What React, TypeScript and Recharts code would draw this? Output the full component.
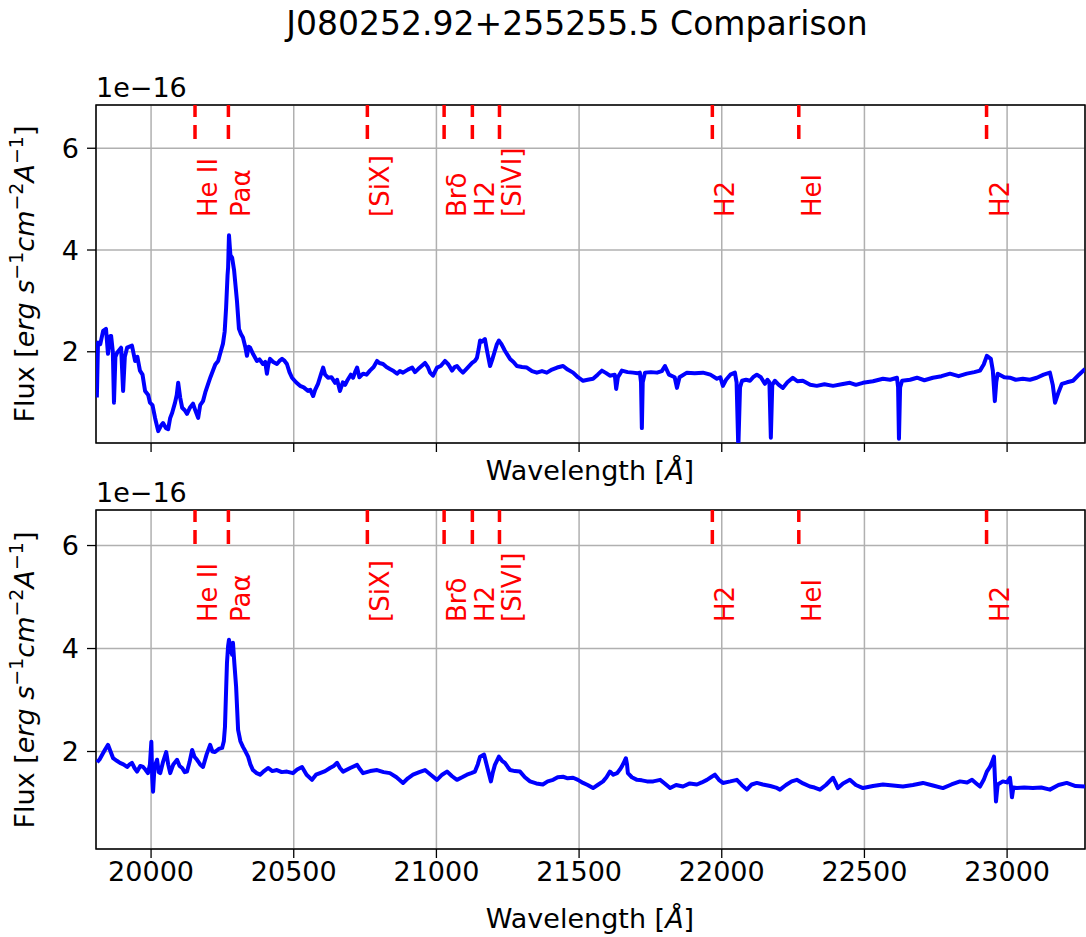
import { LineChart, Line, XAxis, YAxis, CartesianGrid, ReferenceLine, ReferenceArea } from 'recharts'

// upper spectrum (wavelength in Å, flux in 1e-16)
const wave1 = [
  19810, 19814, 19822, 19832, 19842, 19849, 19855, 19860, 19866, 19870, 19875, 19881, 19895, 19902, 19908, 19916,
  19933, 19944, 19952, 19961, 19970, 19979, 19990, 19996, 20005, 20014, 20025, 20035, 20042, 20052, 20060, 20067,
  20074, 20084, 20090, 20095, 20102, 20109, 20118, 20126, 20136, 20147, 20155, 20165, 20172, 20182, 20190, 20200,
  20208, 20217, 20225, 20235, 20244, 20252, 20258, 20263, 20268, 20270, 20273, 20278, 20284, 20291, 20296, 20301,
  20308, 20315, 20322, 20330, 20336, 20342, 20347, 20358, 20371, 20380, 20392, 20400, 20406, 20411, 20417, 20428,
  20441, 20450, 20459, 20468, 20476, 20485, 20494, 20508, 20522, 20535, 20550, 20558, 20568, 20575, 20585, 20595,
  20603, 20610, 20620, 20632, 20645, 20652, 20662, 20672, 20680, 20687, 20700, 20708, 20715, 20722, 20730, 20743,
  20755, 20767, 20780, 20792, 20800, 20813, 20825, 20837, 20850, 20862, 20872, 20883, 20900, 20915, 20925, 20936,
  20948, 20960, 20970, 20978, 20988, 21002, 21015, 21030, 21042, 21055, 21064, 21072, 21082, 21093, 21108, 21125,
  21135, 21142, 21148, 21153, 21160, 21170, 21178, 21188, 21196, 21205, 21212, 21219, 21228, 21240, 21248, 21258,
  21270, 21282, 21300, 21317, 21335, 21352, 21370, 21387, 21405, 21423, 21444, 21460, 21479, 21496, 21514, 21530,
  21549, 21565, 21580, 21595, 21608, 21625, 21630, 21636, 21650, 21670, 21689, 21705, 21713, 21717, 21720, 21723,
  21731, 21752, 21773, 21790, 21801, 21815, 21835, 21843, 21852, 21878, 21905, 21934, 21960, 21983, 21995, 22004,
  22015, 22030, 22046, 22052, 22058, 22064, 22071, 22085, 22099, 22110, 22123, 22137, 22151, 22160, 22167, 22172,
  22177, 22186, 22200, 22214, 22230, 22249, 22265, 22284, 22310, 22333, 22360, 22390, 22420, 22449, 22470, 22495,
  22530, 22565, 22590, 22614, 22618, 22621, 22625, 22632, 22660, 22684, 22710, 22740, 22770, 22800, 22830, 22859,
  22885, 22905, 22918, 22929, 22943, 22950, 22957, 22962, 22967, 22990, 23010, 23030, 23055, 23080, 23104, 23128,
  23150, 23160, 23168, 23180, 23192, 23210, 23231, 23252, 23273,
]
const flux1 = [
  1.10, 2.18, 2.15, 2.41, 2.45, 1.96, 2.30, 2.31, 2.00, 1.00, 1.90, 1.98, 2.08, 1.23, 1.90, 2.08,
  2.12, 1.82, 1.90, 1.63, 1.55, 1.23, 1.15, 1.00, 0.95, 0.70, 0.44, 0.55, 0.60, 0.50, 0.48, 0.70,
  0.80, 1.00, 1.15, 1.39, 1.10, 0.90, 0.85, 0.78, 0.90, 0.98, 0.85, 0.70, 0.95, 1.03, 1.20, 1.37,
  1.50, 1.63, 1.75, 1.82, 2.00, 2.16, 2.40, 2.87, 3.50, 3.66, 4.29, 3.90, 3.85, 3.60, 3.30, 3.00,
  2.45, 2.35, 2.28, 2.10, 1.92, 2.10, 2.08, 1.95, 1.82, 1.85, 1.76, 1.80, 1.57, 1.75, 1.86, 1.80,
  1.76, 1.82, 1.86, 1.82, 1.76, 1.60, 1.49, 1.40, 1.33, 1.30, 1.23, 1.25, 1.13, 1.25, 1.37, 1.55,
  1.69, 1.55, 1.49, 1.50, 1.39, 1.45, 1.23, 1.40, 1.35, 1.43, 1.55, 1.49, 1.60, 1.69, 1.50, 1.57,
  1.55, 1.63, 1.70, 1.82, 1.78, 1.76, 1.70, 1.66, 1.62, 1.57, 1.62, 1.59, 1.65, 1.69, 1.60, 1.66,
  1.72, 1.78, 1.70, 1.59, 1.53, 1.69, 1.72, 1.82, 1.75, 1.63, 1.70, 1.72, 1.65, 1.59, 1.68, 1.78,
  1.82, 1.88, 2.05, 2.22, 2.20, 2.25, 2.00, 1.72, 1.85, 2.02, 2.15, 2.22, 2.15, 2.02, 1.95, 1.86,
  1.80, 1.72, 1.70, 1.69, 1.62, 1.59, 1.62, 1.59, 1.65, 1.69, 1.72, 1.65, 1.59, 1.50, 1.43, 1.45,
  1.47, 1.55, 1.63, 1.58, 1.53, 1.55, 1.27, 1.50, 1.63, 1.60, 1.59, 1.58, 1.59, 1.40, 0.50, 1.40,
  1.59, 1.60, 1.59, 1.62, 1.72, 1.55, 1.50, 1.29, 1.50, 1.59, 1.58, 1.59, 1.55, 1.47, 1.50, 1.33,
  1.45, 1.55, 1.59, 1.40, 0.10, 1.30, 1.43, 1.45, 1.43, 1.50, 1.55, 1.50, 1.37, 1.45, 1.40, 0.31,
  1.35, 1.43, 1.35, 1.29, 1.40, 1.49, 1.42, 1.43, 1.35, 1.33, 1.36, 1.33, 1.36, 1.39, 1.35, 1.39,
  1.42, 1.47, 1.45, 1.49, 1.30, 0.29, 1.30, 1.43, 1.45, 1.49, 1.44, 1.49, 1.52, 1.57, 1.52, 1.57,
  1.60, 1.63, 1.75, 1.92, 1.86, 1.63, 1.03, 1.40, 1.57, 1.50, 1.49, 1.45, 1.47, 1.45, 1.49, 1.55,
  1.59, 1.35, 1.00, 1.20, 1.37, 1.40, 1.43, 1.55, 1.66,
]

// lower spectrum
const wave2 = [
  19811, 19820, 19832, 19840, 19849, 19858, 19867, 19880, 19891, 19903, 19916, 19925, 19933, 19942, 19951, 19962,
  19972, 19980, 19989, 19996, 20001, 20004, 20007, 20012, 20021, 20027, 20032, 20042, 20053, 20060, 20067, 20078,
  20091, 20100, 20109, 20118, 20126, 20135, 20144, 20152, 20161, 20172, 20182, 20195, 20207, 20215, 20224, 20237,
  20249, 20255, 20259, 20263, 20266, 20270, 20273, 20278, 20284, 20287, 20292, 20298, 20305, 20313, 20322, 20331,
  20340, 20348, 20357, 20370, 20382, 20396, 20410, 20425, 20441, 20458, 20476, 20497, 20512, 20529, 20545, 20564,
  20578, 20592, 20610, 20627, 20640, 20652, 20662, 20673, 20698, 20722, 20733, 20743, 20768, 20792, 20815, 20837,
  20860, 20883, 20900, 20918, 20940, 20960, 20980, 21002, 21020, 21037, 21055, 21072, 21090, 21107, 21122, 21135,
  21145, 21153, 21167, 21178, 21191, 21198, 21205, 21219, 21230, 21240, 21250, 21258, 21275, 21293, 21310, 21328,
  21350, 21373, 21390, 21409, 21425, 21444, 21460, 21479, 21496, 21514, 21530, 21549, 21565, 21584, 21596, 21608,
  21620, 21633, 21643, 21650, 21658, 21664, 21668, 21671, 21685, 21703, 21720, 21738, 21760, 21784, 21800, 21819,
  21840, 21864, 21888, 21913, 21930, 21948, 21962, 21976, 21990, 22004, 22030, 22053, 22070, 22088, 22105, 22123,
  22144, 22170, 22190, 22204, 22225, 22245, 22263, 22285, 22309, 22325, 22344, 22365, 22390, 22398, 22407, 22425,
  22449, 22470, 22495, 22530, 22565, 22600, 22635, 22670, 22705, 22740, 22775, 22805, 22835, 22860, 22877, 22892,
  22905, 22918, 22929, 22940, 22946, 22954, 22958, 22961, 22964, 22967, 22985, 23000, 23010, 23014, 23017, 23022,
  23034, 23060, 23090, 23120, 23150, 23180, 23209, 23240, 23273,
]
const flux2 = [
  1.79, 1.85, 1.97, 2.05, 2.13, 2.00, 1.87, 1.82, 1.78, 1.75, 1.70, 1.75, 1.78, 1.68, 1.61, 1.72,
  1.70, 1.65, 1.58, 1.75, 2.19, 1.50, 1.22, 1.70, 1.84, 1.60, 1.58, 1.80, 1.99, 1.75, 1.58, 1.75,
  1.84, 1.72, 1.68, 1.60, 1.61, 1.80, 2.03, 1.90, 1.84, 1.75, 1.70, 1.95, 2.13, 2.00, 1.99, 2.05,
  2.07, 2.20, 2.48, 3.20, 3.72, 4.05, 4.17, 4.00, 3.88, 4.11, 3.70, 3.26, 2.42, 2.20, 2.09, 2.00,
  1.90, 1.75, 1.64, 1.58, 1.55, 1.62, 1.68, 1.62, 1.64, 1.60, 1.61, 1.58, 1.65, 1.70, 1.55, 1.45,
  1.55, 1.58, 1.62, 1.68, 1.72, 1.78, 1.68, 1.61, 1.68, 1.74, 1.65, 1.58, 1.62, 1.64, 1.60, 1.58,
  1.50, 1.39, 1.48, 1.55, 1.60, 1.64, 1.55, 1.45, 1.55, 1.61, 1.52, 1.45, 1.50, 1.55, 1.58, 1.61,
  1.75, 1.90, 1.94, 1.70, 1.42, 1.60, 1.74, 1.90, 1.82, 1.78, 1.70, 1.64, 1.62, 1.61, 1.50, 1.42,
  1.38, 1.36, 1.42, 1.45, 1.50, 1.51, 1.48, 1.49, 1.45, 1.39, 1.35, 1.29, 1.35, 1.42, 1.50, 1.61,
  1.55, 1.58, 1.65, 1.71, 1.80, 1.87, 1.75, 1.58, 1.50, 1.45, 1.44, 1.42, 1.42, 1.45, 1.38, 1.29,
  1.35, 1.32, 1.38, 1.36, 1.40, 1.45, 1.50, 1.55, 1.45, 1.39, 1.42, 1.45, 1.35, 1.26, 1.36, 1.39,
  1.36, 1.33, 1.30, 1.26, 1.35, 1.42, 1.45, 1.38, 1.32, 1.30, 1.26, 1.35, 1.49, 1.40, 1.29, 1.38,
  1.45, 1.35, 1.29, 1.33, 1.36, 1.34, 1.32, 1.35, 1.39, 1.34, 1.29, 1.36, 1.42, 1.40, 1.45, 1.38,
  1.32, 1.45, 1.61, 1.70, 1.78, 1.90, 1.40, 1.03, 1.20, 1.36, 1.42, 1.40, 1.49, 1.30, 1.11, 1.30,
  1.29, 1.30, 1.29, 1.30, 1.26, 1.35, 1.39, 1.33, 1.32,
]

// emission line markers
const lineWaves = [20154, 20271, 20758, 21027, 21126, 21221, 21967, 22270, 22928]
const lineNames = ['He II', 'Paα', '[SiX]', 'Brδ', 'H2', '[SiVI]', 'H2', 'HeI', 'H2']

const xTicks = [20000, 20500, 21000, 21500, 22000, 22500, 23000]
const yTicks = [2, 4, 6]

const X_MIN = 19807
const X_MAX = 23273
const FONT = '"DejaVu Sans", sans-serif'

const toRows = (w: number[], f: number[]) => w.map((x, i) => ({ wave: x, flux: f[i] }))

const LineMark = ({ x1, y1, y2, name }: { x1?: number; y1?: number; y2?: number; name: string }) => {
  if (x1 == null || y1 == null || y2 == null) return null
  const top = Math.min(y1, y2)
  return (
    <g>
      <line x1={x1} x2={x1} y1={top + 34} y2={top} stroke="#ff0000" strokeWidth={3.5} strokeDasharray="14 8" />
      <text
        transform={`translate(${x1 + 13},${top + 112}) rotate(-90)`}
        fill="#ff0000"
        fontSize={26}
        fontFamily={FONT}
        dominantBaseline="central"
      >
        {name}
      </text>
    </g>
  )
}

interface PanelProps {
  rows: { wave: number; flux: number }[]
  top: number
  height: number
  yMin: number
  yMax: number
  showTickLabels: boolean
}

function Panel({ rows, top, height, yMin, yMax, showTickLabels }: PanelProps) {
  return (
    <LineChart
      width={1086}
      height={height}
      data={rows}
      margin={{ top, right: 1, left: 36, bottom: 0 }}
    >
      <CartesianGrid stroke="#b0b0b0" strokeWidth={1.5} />
      <XAxis
        dataKey="wave"
        type="number"
        domain={[X_MIN, X_MAX]}
        ticks={xTicks}
        allowDataOverflow
        axisLine={false}
        tickLine={{ stroke: '#000', strokeWidth: 1.3 }}
        tickSize={9}
        tickMargin={4}
        height={showTickLabels ? 88 : 27}
        tick={showTickLabels ? { fill: '#000', fontSize: 27, fontFamily: FONT } : () => <g />}
      />
      <YAxis
        type="number"
        domain={[yMin, yMax]}
        ticks={yTicks}
        allowDataOverflow
        axisLine={false}
        tickLine={{ stroke: '#000', strokeWidth: 1.3 }}
        tickSize={9}
        tickMargin={8}
        width={60}
        tick={{ fill: '#000', fontSize: 27, fontFamily: FONT }}
      />
      <Line
        dataKey="flux"
        stroke="#0000ff"
        strokeWidth={4}
        dot={false}
        isAnimationActive={false}
        strokeLinejoin="round"
      />
      {lineWaves.map((w, i) => (
        <ReferenceLine
          key={i}
          x={w}
          stroke="none"
          shape={(p: any) => <LineMark {...p} name={lineNames[i]} />}
        />
      ))}
      <ReferenceArea x1={X_MIN} x2={X_MAX} y1={yMin} y2={yMax} fill="none" stroke="#000" strokeWidth={1.5} fillOpacity={0} />
    </LineChart>
  )
}

const FluxLabel = ({ cy }: { cy: number }) => (
  <text transform={`translate(34,${cy}) rotate(-90)`} textAnchor="middle" fontSize={27} fontFamily={FONT}>
    Flux [<tspan fontStyle="italic">erg</tspan> <tspan fontStyle="italic">s</tspan>
    <tspan dy={-11} fontSize={19}>−1</tspan>
    <tspan dy={11} fontStyle="italic">cm</tspan>
    <tspan dy={-11} fontSize={19}>−2</tspan>
    <tspan dy={11} fontStyle="italic">A</tspan>
    <tspan dy={-11} fontSize={19}>−1</tspan>
    <tspan dy={11}>]</tspan>
  </text>
)

const WaveLabel = ({ y }: { y: number }) => (
  <text x={590} y={y} textAnchor="middle" fontSize={27} fontFamily={FONT}>
    Wavelength [<tspan fontStyle="italic">Å</tspan>]
  </text>
)

export default function App() {
  return (
    <div style={{ position: 'absolute', left: 0, top: 0, width: 1086, height: 937, background: '#fff', fontFamily: FONT }}>
      <div style={{ position: 'absolute', left: 0, top: 0 }}>
        <Panel rows={toRows(wave1, flux1)} top={105} height={470} yMin={0.207} yMax={6.85} showTickLabels={false} />
      </div>
      <div style={{ position: 'absolute', left: 0, top: 0 }}>
        <Panel rows={toRows(wave2, flux2)} top={510} height={937} yMin={0.107} yMax={6.69} showTickLabels />
      </div>
      <svg width={1086} height={937} style={{ position: 'absolute', left: 0, top: 0, pointerEvents: 'none' }}>
        <text x={577} y={35} textAnchor="middle" fontSize={33} fontFamily={FONT}>
          J080252.92+255255.5 Comparison
        </text>
        <text x={96} y={97} fontSize={27} fontFamily={FONT}>1e−16</text>
        <text x={96} y={502} fontSize={27} fontFamily={FONT}>1e−16</text>
        <FluxLabel cy={274} />
        <FluxLabel cy={680} />
        <WaveLabel y={480} />
        <WaveLabel y={928} />
      </svg>
    </div>
  )
}
